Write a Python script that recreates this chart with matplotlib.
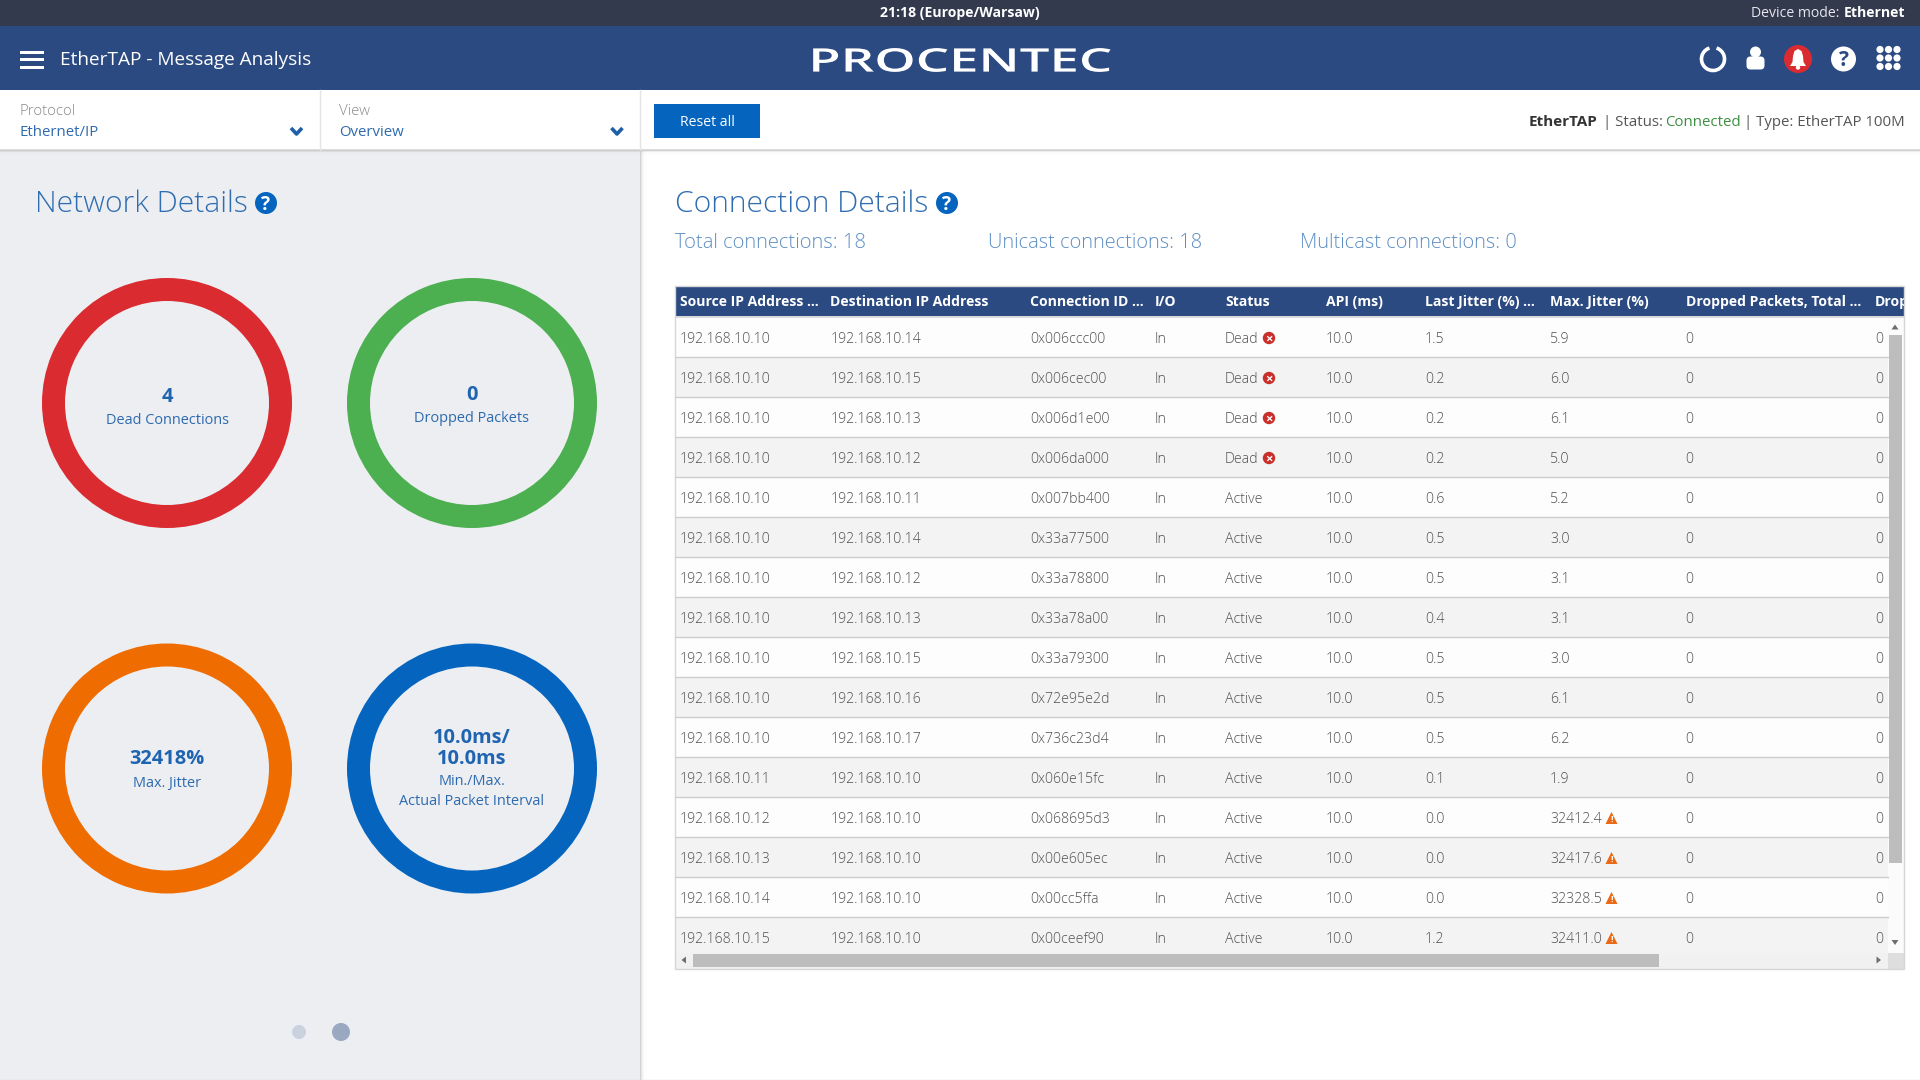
import matplotlib
matplotlib.use("Agg")
import matplotlib.pyplot as plt
from matplotlib.patches import Rectangle, Circle, Wedge, Polygon, FancyBboxPatch, Arc
from matplotlib.patheffects import AbstractPathEffect
from matplotlib.transforms import Affine2D

# ---------- data ----------
source_ip = ["192.168.10.10"] * 11 + ["192.168.10.11", "192.168.10.12", "192.168.10.13", "192.168.10.14", "192.168.10.15"]
dest_ip = ["192.168.10.14", "192.168.10.15", "192.168.10.13", "192.168.10.12", "192.168.10.11", "192.168.10.14",
           "192.168.10.12", "192.168.10.13", "192.168.10.15", "192.168.10.16", "192.168.10.17"] + ["192.168.10.10"] * 5
conn_id = ["0x006ccc00", "0x006cec00", "0x006d1e00", "0x006da000", "0x007bb400", "0x33a77500", "0x33a78800", "0x33a78a00",
           "0x33a79300", "0x72e95e2d", "0x736c23d4", "0x060e15fc", "0x068695d3", "0x00e605ec", "0x00cc5ffa", "0x00ceef90"]
io_dir = ["In"] * 16
status = ["Dead"] * 4 + ["Active"] * 12
api_ms = ["10.0"] * 16
last_jitter = ["1.5", "0.2", "0.2", "0.2", "0.6", "0.5", "0.5", "0.4", "0.5", "0.5", "0.5", "0.1", "0.0", "0.0", "0.0", "1.2"]
max_jitter = ["5.9", "6.0", "6.1", "5.0", "5.2", "3.0", "3.1", "3.1", "3.0", "6.1", "6.2", "1.9",
              "32412.4", "32417.6", "32328.5", "32411.0"]
dropped_total = ["0"] * 16
dropped_last = ["0"] * 16
headers = ["Source IP Address ...", "Destination IP Address", "Connection ID ...", "I/O", "Status", "API (ms)",
           "Last Jitter (%) ...", "Max. Jitter (%)", "Dropped Packets, Total ...", "Drop"]
columns = [source_ip, dest_ip, conn_id, io_dir, status, api_ms, last_jitter, max_jitter, dropped_total, dropped_last]
warn_flags = [float(v) > 1000 for v in max_jitter]

ring_lines_big = [["4"], ["0"], ["32418%"], ["10.0ms/", "10.0ms"]]
ring_lines_small = [["Dead Connections"], ["Dropped Packets"], ["Max. Jitter"], ["Min./Max.", "Actual Packet Interval"]]
ring_colors = ["#D92B30", "#4CAF50", "#EF6C00", "#0565BE"]

# ---------- look ----------
FONT = "Open Sans"
BAR_DARK = "#343A4E"
NAVY = "#2C4A82"
BLUE = "#0565BE"
PANEL = "#ECEEF2"
TITLE_BLUE = "#2F6DB0"
LINK_BLUE = "#2E6AAE"
BODY = "#505050"

fig = plt.figure(figsize=(19.2, 10.8), dpi=100, facecolor="white")
ax = fig.add_axes([0, 0, 1, 1])
ax.set_xlim(0, 1920)
ax.set_ylim(1080, 0)
ax.axis("off")


def T(x, yc, s, px, color=BODY, weight="normal", ha="left", z=6, **kw):
    """Text whose digit-height centre is at yc; size given in screen pixels."""
    return ax.text(x, yc + 0.357 * px, s, fontsize=px * 0.72, color=color, fontweight=weight, family=FONT,
                   ha=ha, va="baseline", zorder=z, **kw)


def R(x0, y0, x1, y1, color, z=1, **kw):
    p = Rectangle((x0, y0), x1 - x0, y1 - y0, facecolor=color, edgecolor="none", zorder=z, **kw)
    ax.add_patch(p)
    return p


class StretchX(AbstractPathEffect):
    def __init__(self, sx, cx_px):
        super().__init__()
        self.sx, self.cx = sx, cx_px

    def draw_path(self, renderer, gc, tpath, affine, rgbFace=None):
        a = affine + Affine2D().translate(-self.cx, 0).scale(self.sx, 1).translate(self.cx, 0)
        renderer.draw_path(gc, tpath, a, rgbFace)


def Ellipse_(cx, cy, r, color, z=7):
    return Circle((cx, cy), r, facecolor=color, edgecolor="none", zorder=z)


def help_icon(cx, cy, r, bg, fg, px):
    ax.add_patch(Ellipse_(cx, cy, r, bg))
    T(cx, cy, "?", px, color=fg, weight="bold", ha="center", z=8)


# ---------- page structure ----------
R(0, 0, 1920, 26, BAR_DARK)
R(0, 26, 1920, 90, NAVY)
R(0, 150, 640, 1080, PANEL)
for a_, w_ in zip([.22, .14, .08, .04, .02], [1, 2, 3, 4, 6]):
    R(640, 150, 640 + w_, 1080, "#000000", z=2, alpha=a_ * 0.35)
    R(0, 150, 1920, 150 + w_ * 0.6, "#000000", z=3, alpha=a_ * 0.5)
ax.plot([0, 1920], [150, 150], color="#D5D5D5", lw=1.2, zorder=3)
ax.plot([320, 320], [90, 150], color="#E4E4E4", lw=1, zorder=3)
ax.plot([640, 640], [90, 150], color="#E4E4E4", lw=1, zorder=3)
ax.plot([0, 1920], [1079.5, 1079.5], color="#DDDDDD", lw=1, zorder=3)

# top bar
T(960, 12, "21:18 (Europe/Warsaw)", 14, color="white", weight="bold", ha="center")
T(1839, 12, "Device mode:", 14, color="#E6E8EE", ha="right")
T(1905, 12, "Ethernet", 14, color="white", weight="bold", ha="right")

# header bar
for y in (52, 59.5, 67):
    R(20, y - 1.5, 44, y + 1.5, "white", z=5)
T(60, 58, "EtherTAP - Message Analysis", 19, color="white")
logo = T(960, 60, "PROCENTEC", 32.5, color="white", weight="semibold", ha="center")
logo.set_path_effects([StretchX(1.62, 960)])

ax.add_patch(Arc((1713, 59), 23, 23, theta1=-72, theta2=252, color="white", lw=2.6, zorder=7))
ax.add_patch(Circle((1755.5, 52), 5.5, facecolor="white", edgecolor="none", zorder=7))
ax.add_patch(FancyBboxPatch((1749, 59), 13, 8, boxstyle="round,pad=2.5,rounding_size=4", facecolor="white",
                            edgecolor="none", zorder=7))
ax.add_patch(Circle((1798, 59), 14, facecolor="#D92B30", edgecolor="none", zorder=7))
ax.add_patch(Polygon([(1798, 49), (1801.5, 51), (1803, 56), (1803.5, 62), (1806, 66), (1790, 66), (1792.5, 62),
                      (1793, 56), (1794.5, 51)], closed=True, facecolor="white", edgecolor="none", zorder=8))
ax.add_patch(Circle((1798, 67.5), 2.2, facecolor="white", edgecolor="none", zorder=8))
help_icon(1843.5, 59, 12.5, "white", NAVY, 21)
for gx in (1880, 1888.5, 1897):
    for gy in (49.5, 58, 66.5):
        ax.add_patch(Circle((gx, gy), 3.6, facecolor="white", edgecolor="none", zorder=7))

# filter bar
T(19.5, 110, "Protocol", 15, color="#8A8A8A", weight="light")
T(19.5, 130.5, "Ethernet/IP", 15, color=LINK_BLUE)
T(339, 110, "View", 15, color="#8A8A8A", weight="light")
T(339, 130.5, "Overview", 15, color=LINK_BLUE)
for cx in (296.5, 617):
    ax.plot([cx - 5.5, cx, cx + 5.5], [128, 134, 128], color="#1F5FA8", lw=2.6, zorder=6, solid_capstyle="butt")
R(654, 104, 760, 138, BLUE, z=4)
T(707, 121, "Reset all", 14, color="white", ha="center")
T(1529, 121, "EtherTAP", 15.2, color="#333333", weight="bold")
T(1603, 121, "| Status:", 15, color="#555555")
T(1665, 121, "Connected", 15, color="#3E8E41")
T(1905, 121, "| Type: EtherTAP 100M", 15, color="#555555", ha="right")

# section titles
T(35, 201, "Network Details", 30, color=TITLE_BLUE, weight="light")
help_icon(266, 203, 11, BLUE, "white", 19)
T(675, 201, "Connection Details", 30, color=TITLE_BLUE, weight="light")
help_icon(947, 203, 11, BLUE, "white", 19)
T(675, 241, "Total connections: 18", 20.1, color="#5E8FC4", weight="light")
T(987.5, 241, "Unicast connections: 18", 20, color="#5E8FC4", weight="light")
T(1300, 241, "Multicast connections: 0", 20, color="#5E8FC4", weight="light")

# ---------- rings ----------
ring_centres = [(167, 403), (472, 403), (167, 768.5), (472, 768.5)]
big_ys = [[395], [393], [757], [736, 757]]
small_ys = [[419], [417], [782], [780, 800]]
for (cx, cy), col, bigs, smalls, by, sy in zip(ring_centres, ring_colors, ring_lines_big, ring_lines_small, big_ys, small_ys):
    ax.add_patch(Wedge((cx, cy), 125, 0, 360, width=23, facecolor=col, edgecolor="none", zorder=4))
    for s, y in zip(bigs, by):
        T(cx, y, s, 20, color="#1F64B0", weight="bold", ha="center")
    for s, y in zip(smalls, sy):
        T(cx, y, s, 14.5, color=LINK_BLUE, ha="center")
ax.add_patch(Circle((299, 1032), 7, facecolor="#CBD2DF", edgecolor="none", zorder=4))
ax.add_patch(Circle((341, 1032), 9, facecolor="#9AA8C1", edgecolor="none", zorder=4))

# ---------- table ----------
TX0, TX1 = 675, 1904
HDR0, HDR1 = 286, 316
ROW_H = 40
BODY_R = 1888
BODY_B = 953
col_x = [680, 830.5, 1030, 1155, 1225, 1326, 1425, 1550, 1685.5, 1875]

R(TX0, HDR0, TX1, HDR1, NAVY, z=3)
R(TX0, HDR1, TX1, HDR1 + 2, "#DADADA", z=3)
for x, h in zip(col_x, headers):
    T(x, HDR0 + 15, h, 14, color="white", weight="bold")

for i in range(len(source_ip)):
    y0 = HDR1 + 1.3 + i * ROW_H
    y1 = min(y0 + ROW_H, BODY_B)
    R(TX0, y0, BODY_R, y1, "#FDFDFD" if i % 2 == 0 else "#F3F3F3", z=2)
    if y0 + ROW_H < BODY_B:
        ax.plot([TX0, BODY_R], [y0 + ROW_H, y0 + ROW_H], color="#CDCDCD", lw=1, zorder=3)
    yc = 338 + i * ROW_H
    for x, col in zip(col_x, columns):
        T(x, yc, col[i], 14.15, weight="light")
    if status[i] == "Dead":
        ax.add_patch(Circle((1269, yc), 6.2, facecolor="#C9302C", edgecolor="none", zorder=7))
        T(1269, yc - 0.5, "×", 13, color="white", weight="bold", ha="center", z=8)
    if warn_flags[i]:
        ax.add_patch(Polygon([(1611.5, yc - 6), (1617.5, yc + 6), (1605.5, yc + 6)], closed=True,
                             facecolor="#EA6A13", edgecolor="none", zorder=7))
        T(1611.5, yc + 1, "!", 9, color="white", weight="bold", ha="center", z=8)

# scrollbars
R(BODY_R, HDR1, TX1, BODY_B, "#FBFBFB", z=2)
R(1889, 335, 1902, 863, "#BDBDBD", z=4)
R(TX0, BODY_B, TX1, 969, "#F1F1F1", z=4)
R(693, BODY_B + 0.5, 1659, 967, "#BDBDBD", z=5)
R(BODY_R, BODY_B, TX1, 969, "#DEDEDE", z=5)
for pts in ([(1895, 324.5), (1898.5, 329.5), (1891.5, 329.5)],
            [(1895, 945), (1898.5, 940), (1891.5, 940)],
            [(681.5, 960), (686, 956.5), (686, 963.5)],
            [(1881, 960), (1876.5, 956.5), (1876.5, 963.5)]):
    ax.add_patch(Polygon(pts, closed=True, facecolor="#6E6E6E", edgecolor="none", zorder=6))
ax.add_patch(Rectangle((TX0, HDR0), TX1 - TX0, 969 - HDR0, facecolor="none", edgecolor="#D6D6D6", lw=1, zorder=6))

fig.savefig("out.png", dpi=100, facecolor="white")
